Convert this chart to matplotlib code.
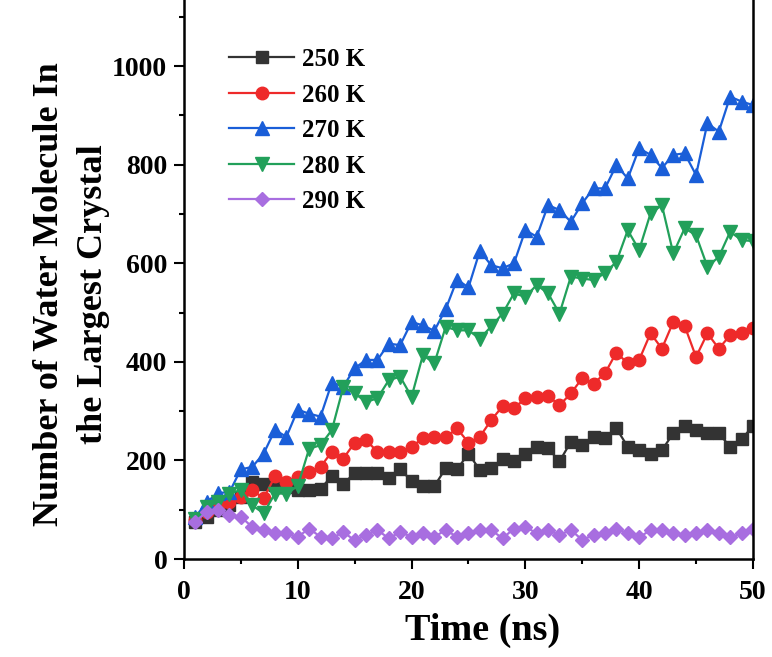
import matplotlib
matplotlib.use('Agg')
import matplotlib.pyplot as plt
from matplotlib.ticker import MultipleLocator

# time axis (ns) and crystal sizes
time_ns = list(range(1, 51))

k250 = [76, 86, 100, 110, 126, 157, 153, 150, 147, 140,
        140, 143, 168, 153, 174, 175, 175, 164, 182, 159,
        148, 148, 184, 182, 214, 181, 184, 204, 198, 214,
        228, 225, 198, 238, 231, 248, 245, 265, 228, 221,
        214, 221, 255, 270, 262, 255, 255, 228, 243, 270]
k260 = [80, 95, 105, 115, 125, 140, 123, 168, 157, 167,
        177, 187, 218, 204, 236, 241, 218, 218, 218, 228,
        245, 248, 247, 265, 236, 248, 282, 310, 306, 326,
        329, 331, 312, 336, 367, 356, 377, 419, 397, 404,
        458, 427, 481, 473, 410, 458, 427, 454, 458, 468]
k270 = [85, 116, 134, 136, 182, 187, 214, 262, 248, 303,
        295, 289, 358, 350, 387, 404, 404, 437, 434, 481,
        474, 463, 507, 567, 551, 625, 596, 590, 600, 667,
        654, 718, 708, 684, 722, 752, 752, 799, 772, 833,
        820, 793, 820, 823, 779, 884, 867, 938, 928, 921]
k280 = [82, 106, 116, 133, 140, 109, 93, 133, 133, 148,
        224, 231, 262, 349, 336, 319, 326, 363, 370, 329,
        414, 397, 471, 464, 464, 447, 472, 498, 539, 532,
        556, 539, 498, 573, 569, 566, 580, 603, 667, 627,
        701, 718, 620, 671, 657, 593, 613, 664, 647, 645]
k290 = [76, 96, 99, 89, 86, 65, 59, 52, 52, 45,
        62, 45, 42, 55, 38, 49, 59, 42, 55, 45,
        52, 45, 59, 45, 52, 59, 59, 42, 62, 66,
        52, 59, 49, 59, 39, 49, 52, 62, 52, 44,
        59, 60, 52, 49, 52, 59, 52, 44, 52, 62]

labels = ['250 K', '260 K', '270 K', '280 K', '290 K']

plt.rcParams['font.family'] = ['Liberation Serif', 'DejaVu Serif']
plt.rcParams['font.weight'] = 'bold'

fig = plt.figure(figsize=(7.72, 6.57), dpi=100)
ax = fig.add_axes([0.2383, 0.149, 0.737, 0.851])

ax.plot(time_ns, k250, color='#333333', marker='s', ms=8, lw=1.6, label=labels[0])
ax.plot(time_ns, k260, color='#ee2a2a', marker='o', ms=9, lw=1.6, label=labels[1])
ax.plot(time_ns, k270, color='#1a5ed8', marker='^', ms=10, lw=1.6, label=labels[2])
ax.plot(time_ns, k280, color='#22a05a', marker='v', ms=10, lw=1.6, label=labels[3])
ax.plot(time_ns, k290, color='#a86ee0', marker='D', ms=7, lw=1.6, label=labels[4])

ax.set_xlim(0, 50)
ax.set_ylim(0, 1134)
ax.xaxis.set_major_locator(MultipleLocator(10))
ax.xaxis.set_minor_locator(MultipleLocator(5))
ax.yaxis.set_major_locator(MultipleLocator(200))
ax.yaxis.set_minor_locator(MultipleLocator(100))
ax.tick_params(which='major', direction='out', length=7, width=1.5, labelsize=20, pad=5)
ax.tick_params(axis='x', which='major', pad=8)
ax.tick_params(which='minor', direction='out', length=3.5, width=1.5)
ax.tick_params(right=False, top=False)

for side in ['left', 'bottom', 'right']:
    ax.spines[side].set_linewidth(1.8)
ax.spines['top'].set_visible(False)

ax.set_xlabel('Time (ns)', fontsize=27.5, fontweight='bold')
ax.xaxis.set_label_coords(0.524, -0.097)
ax.set_ylabel('Number of Water Molecule In\nthe Largest Crystal', fontsize=26,
              fontweight='bold', linespacing=1.45)
ax.yaxis.set_label_coords(-0.13, 0.474)

ax.legend(loc='upper left', bbox_to_anchor=(0.08, 0.914), frameon=False,
          handlelength=2.6, handletextpad=0.3, labelspacing=0.5,
          borderpad=0, borderaxespad=0, prop={'weight': 'bold', 'size': 18})

fig.savefig('out.png', dpi=100)
